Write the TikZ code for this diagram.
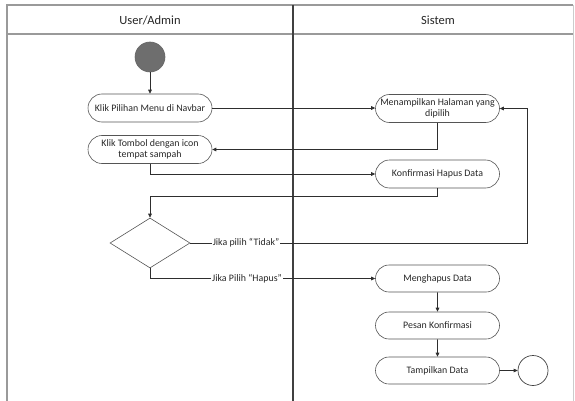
\documentclass[tikz,border=0pt]{standalone}
\usepackage{fontspec}
\setmainfont{Carlito}
\usetikzlibrary{arrows.meta,shapes.geometric,shapes.misc}
\definecolor{edgegray}{HTML}{555555}
\definecolor{linegray}{HTML}{2E2E2E}
\definecolor{framegray}{HTML}{9A9A9A}
\definecolor{startgray}{HTML}{6E6E6E}
\tikzset{
  actbox/.style={draw=edgegray, line width=0.6pt, rounded rectangle, minimum width=126pt,
    minimum height=28pt, inner sep=1pt, font=\fontsize{9.9}{11}\selectfont, align=center, text=black!85},
  decbox/.style={draw=edgegray, line width=0.6pt, diamond, minimum width=80pt, minimum height=50pt, inner sep=0pt},
  flow/.style={draw=linegray, line width=0.75pt, -{Triangle[length=4pt,width=3.6pt]}},
  guard/.style={fill=white, inner sep=1pt, font=\fontsize{9.9}{11}\selectfont, text=black!85},
  lanehead/.style={font=\fontsize{12.5}{14}\selectfont, text=black!85}
}
\begin{document}
\begin{tikzpicture}[x=1pt, y=-1pt]
  \useasboundingbox (0,0) rectangle (575,401);
  % swimlane frame
  \draw[framegray, line width=1.6pt] (7,401) -- (7,5) -- (573,5);
  \draw[black!20, line width=0.8pt] (573,5) -- (573,401);
  \draw[framegray, line width=1.2pt] (7,34) -- (573,34);
  \draw[black!75, line width=2.8pt] (293,5) -- (293,401);
  \node[lanehead] (laneuser) at (150,20) {User/Admin};
  \node[lanehead] (lanesys) at (438,20) {Sistem};

  % activities
  \node[circle, fill=startgray, draw=black!60, line width=0.6pt, minimum size=30pt, inner sep=0pt] (start) at (150,57) {};
  \node[actbox] (menu) at (150,108) {Klik Pilihan Menu di Navbar};
  \node[actbox] (hapusbtn) at (150,149.5) {Klik Tombol dengan icon\\tempat sampah};
  \node[actbox] (tampilhal) at (437.5,108.5) {Menampilkan Halaman yang\\dipilih};
  \node[actbox] (konfirm) at (437.5,174) {Konfirmasi Hapus Data};
  \node[decbox] (pilih) at (150,243) {};
  \node[actbox, minimum height=27pt] (menghapus) at (437.5,278.5) {Menghapus Data};
  \node[actbox, minimum height=27pt] (pesan) at (437.5,325.5) {Pesan Konfirmasi};
  \node[actbox, minimum height=27pt] (tampildata) at (437.5,370.5) {Tampilkan Data};
  \node[circle, draw=black!75, line width=0.7pt, minimum size=30pt, inner sep=0pt] (end) at (533,370.5) {};

  % control flow
  \draw[flow] (start) -- (menu);
  \draw[flow] (menu.east) -- (tampilhal.west |- menu.east);
  \draw[flow] (tampilhal.south) |- (hapusbtn.east);
  \draw[flow] (hapusbtn.south) |- (konfirm.west);
  \draw[flow] (konfirm.south) -- ++(0,8) -| (pilih.north);
  \draw[flow] (pilih.east) -- (527,243) -- (527,108.5) -- (tampilhal.east);
  \draw[flow] (pilih.south) |- (menghapus.west);
  \draw[flow] (menghapus) -- (pesan);
  \draw[flow] (pesan) -- (tampildata);
  \draw[flow] (tampildata) -- (end);

  % guard labels
  \node[guard] (tidak) at (246,243) {Jika pilih “Tidak”};
  \node[guard] (hapus) at (247,278.5) {Jika Pilih “Hapus”};
\end{tikzpicture}
\end{document}
